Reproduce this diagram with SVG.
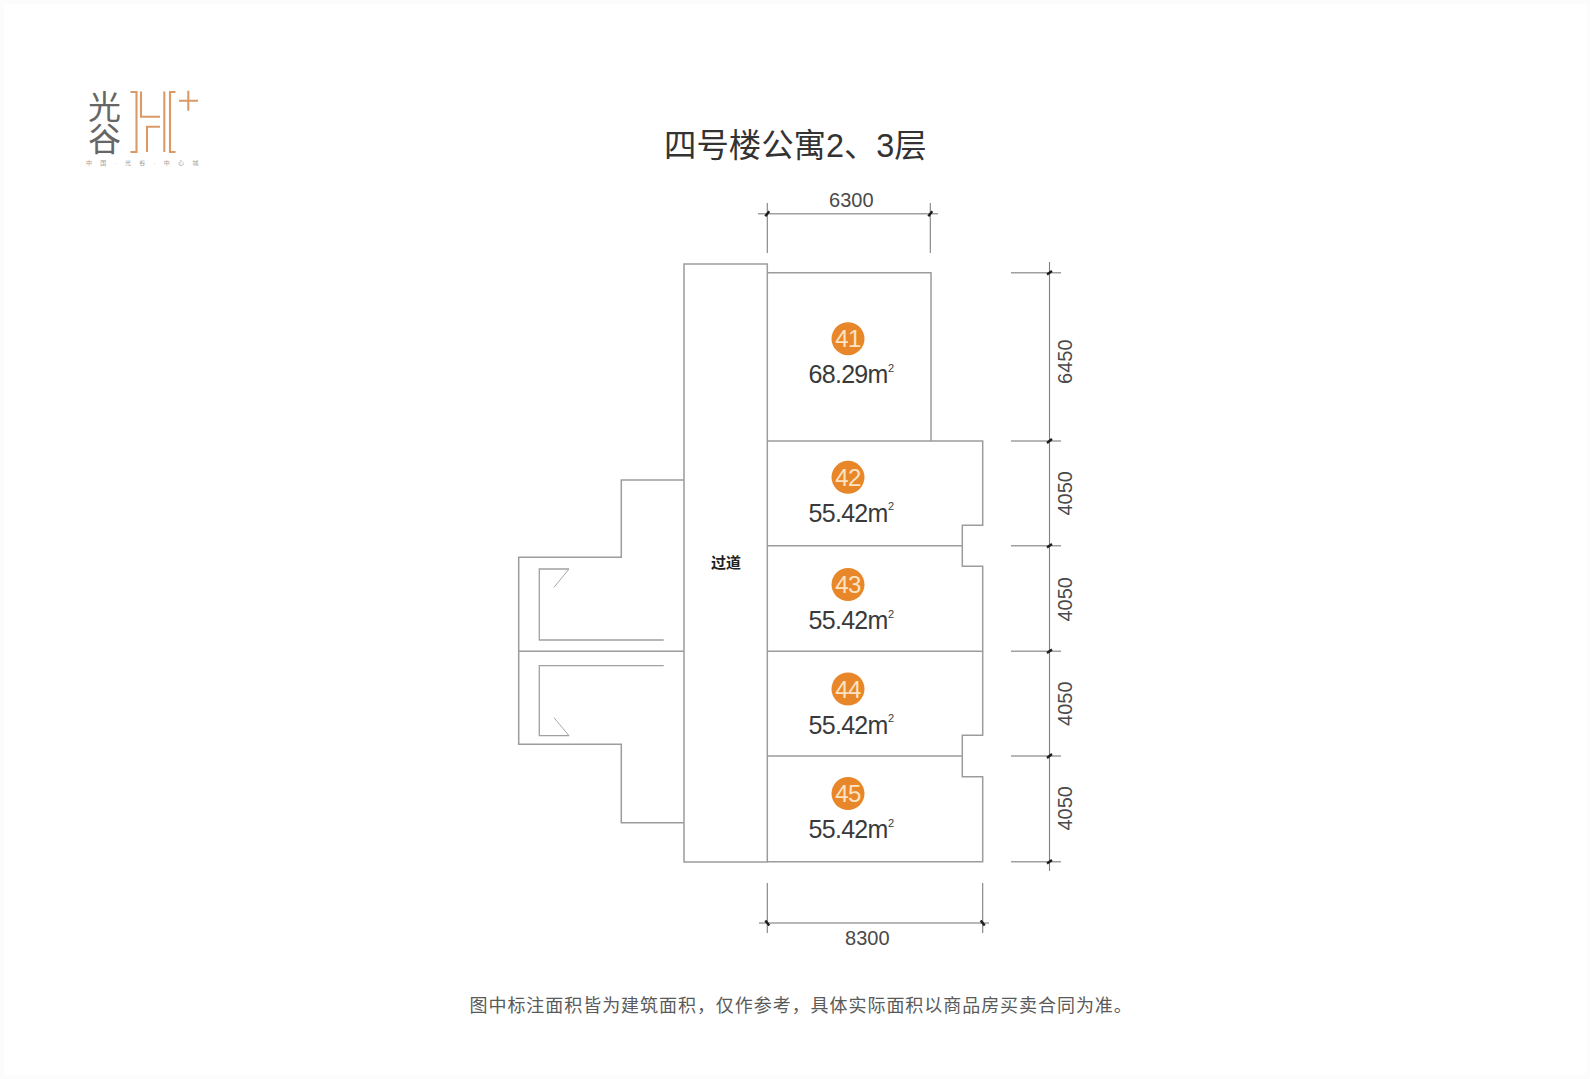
<svg xmlns="http://www.w3.org/2000/svg" width="1590" height="1079" viewBox="0 0 1590 1079">
<style>
.plan{fill:none;stroke:#9c9c9c;stroke-width:1.5}
.thin{fill:none;stroke:#a0a0a0;stroke-width:1.3}
.diag{fill:none;stroke:#a8a8a8;stroke-width:1}
.dim{fill:none;stroke:#808080;stroke-width:1.1}
.dimh{fill:none;stroke:#a0a0a0;stroke-width:1.5}
.tick{fill:none;stroke:#1e1e1e;stroke-width:2.4}
.n{font-family:"Liberation Sans",Arial,sans-serif;fill:#4a4a4a;font-size:20px;text-anchor:middle}
.area{font-family:"Liberation Sans",Arial,sans-serif;fill:#3a3a3a;font-size:25px;letter-spacing:-.7px}
.sup{font-family:"Liberation Sans",Arial,sans-serif;fill:#3a3a3a;font-size:11px}
.num{font-family:"Liberation Sans",Arial,sans-serif;fill:#fbe3c4;font-size:24px;text-anchor:middle;letter-spacing:-.6px}
.badge{fill:#e8872a}
.cjk{font-family:"Liberation Sans","Noto Sans CJK SC",sans-serif}
.logo{fill:none;stroke:#d99a68;stroke-width:2.1}
</style>
<rect width="1590" height="1079" fill="#fcfcfc"/>
<rect x="4" y="4" width="1582" height="1070" fill="#fff"/>
<g id="logo">
<text class="cjk" x="102" y="90" font-size="33" fill="#666" letter-spacing="-1" style="writing-mode:vertical-rl">光谷</text>
<path class="logo" d="M130.500 92H136.500V152H130.500M141 91.500V116.700H160M147 152V126.700H160M164.300 91.500V152M175.500 92H170V152H175.500M179 100.700H198M188.300 90.700V110.700"/>
<text class="cjk" x="86" y="164.500" font-size="6" fill="#a0a0a0" letter-spacing="8.300">中国·光谷·中心城</text>
</g>
<text id="title" class="cjk" x="664" y="157" font-size="32.400" fill="#333">四号楼公寓2、3层</text>
<g id="plan-walls">
<rect class="plan" x="684" y="264" width="83.300" height="598"/>
<path class="plan" d="M684 480H621.300V557.300H518.700V744.300H621.300V822.700H684M518.700 651.300H684"/>
<path class="thin" d="M663.700 640H539.300V569H569M663.700 665.700H539.300V735.700H569"/>
<path class="diag" d="M569 569L554 587.300M569 735.700L554 717.700"/>
</g>
<g id="unit-41"><path class="plan" d="M767.300 272.700H931V441"/><circle class="badge" cx="848" cy="338.700" r="16.500"/><text class="num" x="848" y="347">41</text><text class="area" x="808.500" y="383.300">68.29m</text><text class="sup" x="888" y="372">2</text></g>
<g id="unit-42"><path class="plan" d="M767.300 441H982.700V525.300H962.300V545.700H767.300"/><circle class="badge" cx="848" cy="477.300" r="16.500"/><text class="num" x="848" y="486">42</text><text class="area" x="808.500" y="521.700">55.42m</text><text class="sup" x="888" y="510">2</text></g>
<g id="unit-43"><path class="plan" d="M962.300 545.700V566.300H982.700V651.300H767.300"/><circle class="badge" cx="848" cy="584.500" r="16.500"/><text class="num" x="848" y="593">43</text><text class="area" x="808.500" y="629">55.42m</text><text class="sup" x="888" y="617.500">2</text></g>
<g id="unit-44"><path class="plan" d="M982.700 651.300V735.300H962.300V756H767.300"/><circle class="badge" cx="848" cy="689" r="16.500"/><text class="num" x="848" y="697.500">44</text><text class="area" x="808.500" y="733.500">55.42m</text><text class="sup" x="888" y="722">2</text></g>
<g id="unit-45"><path class="plan" d="M962.300 756V776.700H982.700V861.700H767.300"/><circle class="badge" cx="848" cy="793.500" r="16.500"/><text class="num" x="848" y="802">45</text><text class="area" x="808.500" y="838.300">55.42m</text><text class="sup" x="888" y="827">2</text></g>
<text id="corridor" class="cjk" x="711" y="568" font-size="15" font-weight="700" fill="#222">过道</text>
<g id="dimensions">
<path class="dimh" d="M758 213.700H938M759 923H989M1011 272.700H1061M1011 441H1061M1011 545.700H1061M1011 651.300H1061M1011 756H1061M1011 861.700H1061"/>
<path class="dim" d="M767.300 203V253M930.300 203V253M1049.500 262V871M767.300 883V933M982.700 883V933"/>
<path class="tick" d="M765.300 216.200L769.300 211.200M928.300 216.200L932.300 211.200M1047 274.500L1052 271M1047 443L1052 439M1047 547.500L1052 544M1047 653L1052 649.500M1047 758L1052 754M1047 863.500L1052 860M765.300 920.500L769.300 925.500M980.700 920.500L984.700 925.500"/>
<text class="n" x="851.300" y="206.500">6300</text>
<text class="n" x="867.300" y="944.500">8300</text>
<text class="n" transform="translate(1071.500 361.700) rotate(-90)">6450</text>
<text class="n" transform="translate(1071.500 493.300) rotate(-90)">4050</text>
<text class="n" transform="translate(1071.500 599.300) rotate(-90)">4050</text>
<text class="n" transform="translate(1071.500 703.700) rotate(-90)">4050</text>
<text class="n" transform="translate(1071.500 808.300) rotate(-90)">4050</text>
</g>
<text id="note" class="cjk" x="469.500" y="1012" font-size="18" fill="#5a5a5a" letter-spacing=".95">图中标注面积皆为建筑面积，仅作参考，具体实际面积以商品房买卖合同为准。</text>
</svg>
